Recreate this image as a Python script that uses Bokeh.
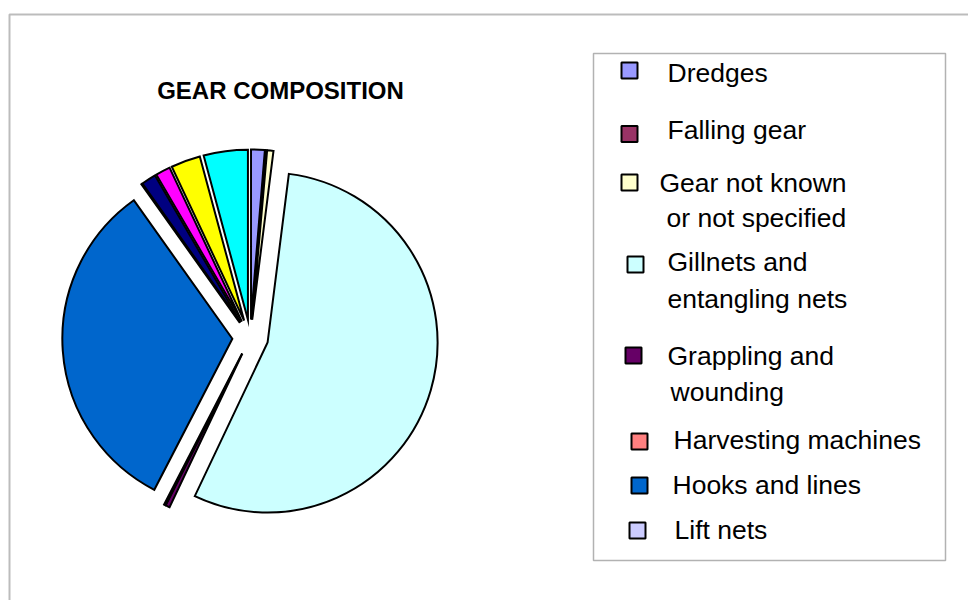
import math
from bokeh.plotting import figure
from bokeh.models import Range1d, BoxAnnotation, ColumnDataSource
from bokeh.core.properties import value
from bokeh.embed import file_html
from bokeh.resources import INLINE

# ---- data (percent shares, clockwise from 12 o'clock) ----
categories = ["Dredges", "Falling gear", "Gear not known or not specified",
              "Gillnets and entangling nets", "Grappling and wounding",
              "Harvesting machines", "Hooks and lines", "Lift nets",
              "Miscellaneous gear", "Seine nets", "Surrounding nets", "Trawls"]
shares = [1.3, 0.1, 0.6, 55.1, 0.4, 0.15, 32.6, 0.05, 1.4, 1.4, 2.8, 4.2]
colors = ["#9999FF", "#993366", "#FFFFCC", "#CCFFFF", "#660066", "#FF8080",
          "#0066CC", "#CCCCFF", "#000080", "#FF00FF", "#FFFF00", "#00FFFF"]
# legend (as shown, truncated after 8 entries)
legend_lines = [["Dredges"], ["Falling gear"], ["Gear not known", "or not specified"],
                ["Gillnets and", "entangling nets"], ["Grappling and", "wounding"],
                ["Harvesting machines"], ["Hooks and lines"], ["Lift nets"]]
title = "GEAR COMPOSITION"

W, H = 968, 600
TXT_SHIFT = 9
def sx(x):
    return x
def sy(y):
    return H - y

p = figure(width=W, height=H, output_backend="svg", toolbar_location=None,
           x_range=Range1d(0, W), y_range=Range1d(0, H), min_border=0)
p.axis.visible = False
p.grid.visible = False
p.outline_line_color = None
p.background_fill_color = "white"

# outer chart border (right/bottom edges fall outside the page)
p.add_layout(BoxAnnotation(left=9, right=W + 20, top=sy(14), bottom=-20,
                           fill_color=None, line_color="#202020", line_width=2))

# ---- pie ----
cx, cy, r, explode = sx(249.8), sy(337), 170, 18
total = sum(shares)
starts, ends, xs, ys = [], [], [], []
acc = 0.0
for s in shares:
    t1 = acc / total * 360.0
    t2 = (acc + s) / total * 360.0
    acc += s
    a_start = math.radians(90 - t2)
    a_end = math.radians(90 - t1)
    mid = (a_start + a_end) / 2
    starts.append(a_start)
    ends.append(a_end)
    xs.append(cx + explode * math.cos(mid))
    ys.append(cy + explode * math.sin(mid))
src = ColumnDataSource(dict(x=xs, y=ys, start=starts, end=ends, color=colors, cat=categories))
p.wedge(x="x", y="y", radius=r, start_angle="start", end_angle="end", source=src,
        fill_color="color", line_color="black", line_width=2, line_join="miter")

# ---- title ----
p.text(x=[sx(280)], y=[sy(99 - TXT_SHIFT)], text=[title], text_font=value("Liberation Sans"),
       text_font_style="bold", text_font_size="24px", text_align="center",
       text_baseline="alphabetic", text_color="black")

# ---- legend ----
p.add_layout(BoxAnnotation(left=sx(593), right=sx(945), top=sy(53), bottom=sy(560),
                           fill_color="white", fill_alpha=1.0, line_color="black", line_width=1.5,
                           level="underlay"))
sq_pos = [(629, 70), (629, 133.5), (629, 182), (635, 264), (633, 355),
          (639, 441), (639, 485), (637, 530)]
txt_pos = [[(667, 81)], [(667, 138)], [(659, 191), (666, 226)],
           [(667, 270), (667, 307)], [(667, 364), (670, 400)],
           [(673, 448)], [(672, 493)], [(674, 538)]]
p.scatter(x=[sx(a) for a, b in sq_pos], y=[sy(b) for a, b in sq_pos], marker="square",
          size=16, fill_color=colors[:len(sq_pos)], line_color="black", line_width=2)
tx, ty, tt = [], [], []
for lines, poss in zip(legend_lines, txt_pos):
    for t, (a, b) in zip(lines, poss):
        tx.append(sx(a)); ty.append(sy(b - TXT_SHIFT)); tt.append(t)
p.text(x=tx, y=ty, text=tt, text_font=value("Liberation Sans"), text_font_size="26.5px",
       text_align="left", text_baseline="alphabetic", text_color="black")

open("out.html", "w").write(file_html(p, INLINE))
